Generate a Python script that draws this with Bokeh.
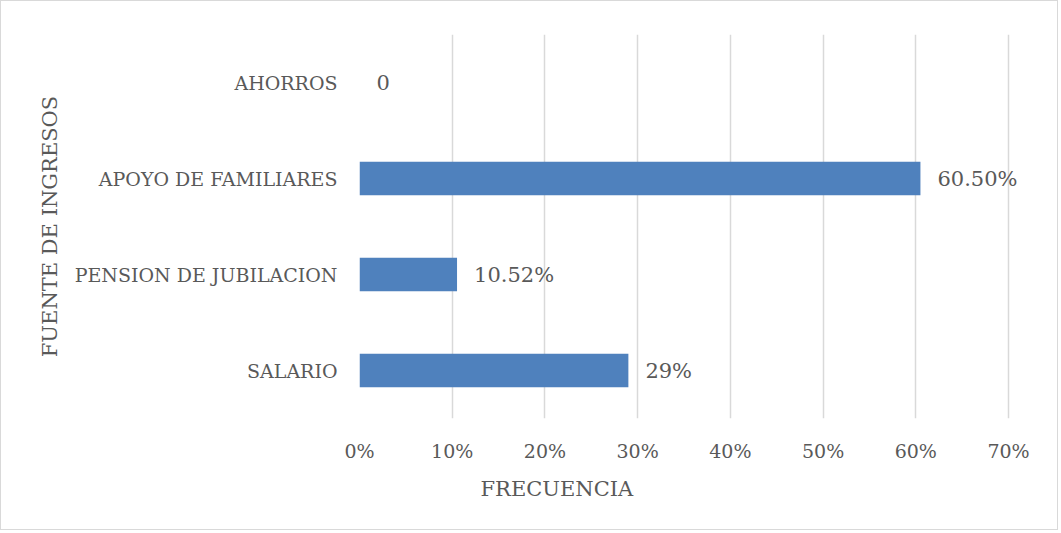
from bokeh.plotting import figure
from bokeh.models import FactorRange, Range1d, NumeralTickFormatter, FixedTicker, ColumnDataSource, Title, LabelSet
from bokeh.core.properties import value
from bokeh.embed import file_html
from bokeh.resources import INLINE

categories = ["SALARIO", "PENSION DE JUBILACION", "APOYO DE FAMILIARES", "AHORROS"]
values = [0.29, 0.1052, 0.605, 0.0]
labels = ["29%", "10.52%", "60.50%", "0"]
x_ticks = [0.0, 0.1, 0.2, 0.3, 0.4, 0.5, 0.6, 0.7]

FONT = "DejaVu Serif"
GREY = "#595959"

# frame extends a little past 70% so the data label of the longest bar is not clipped
p = figure(width=1058, height=530, output_backend="svg", toolbar_location=None,
           y_range=FactorRange(factors=categories, range_padding=0),
           x_range=Range1d(0, 0.7345),
           min_border_left=358, min_border_right=19, min_border_top=33, min_border_bottom=113)
p.styles = {"border": "1px solid #d9d9d9"}

src = ColumnDataSource(dict(cat=categories, val=values, lab=labels))
p.hbar(y="cat", right="val", left=0, height=0.35, source=src, color="#4F81BD", line_color=None)
lbls = LabelSet(x="val", y="cat", text="lab", source=src, x_offset=17, text_baseline="middle",
                text_align="left", text_font=value(FONT), text_font_size=value("21px"),
                text_color=GREY)
p.add_layout(lbls)

p.xaxis.ticker = FixedTicker(ticks=x_ticks)
p.xaxis.formatter = NumeralTickFormatter(format="0%")
for ax in (p.xaxis, p.yaxis):
    ax.axis_line_color = None
    ax.major_tick_line_color = None
    ax.minor_tick_line_color = None
    ax.major_tick_out = 0
    ax.major_tick_in = 0
    ax.minor_tick_out = 0
    ax.major_label_text_font = FONT
    ax.major_label_text_font_size = "19px"
    ax.major_label_text_color = GREY
p.xaxis.major_label_standoff = 21
p.yaxis.major_label_standoff = 22
p.yaxis.axis_label = "FUENTE DE INGRESOS"
p.yaxis.axis_label_text_font = FONT
p.yaxis.axis_label_text_font_size = "21px"
p.yaxis.axis_label_text_font_style = "normal"
p.yaxis.axis_label_text_color = GREY
p.yaxis.axis_label_standoff = 10

t = Title(text="FRECUENCIA", align="left", offset=121, text_font=FONT, text_font_size="21px",
          text_font_style="normal", text_color=GREY, standoff=21)
p.add_layout(t, "below")

p.xgrid.grid_line_color = "#d9d9d9"
p.xgrid.grid_line_width = 1.5
p.ygrid.grid_line_color = None
p.outline_line_color = None

open("out.html", "w").write(file_html(p, INLINE))
